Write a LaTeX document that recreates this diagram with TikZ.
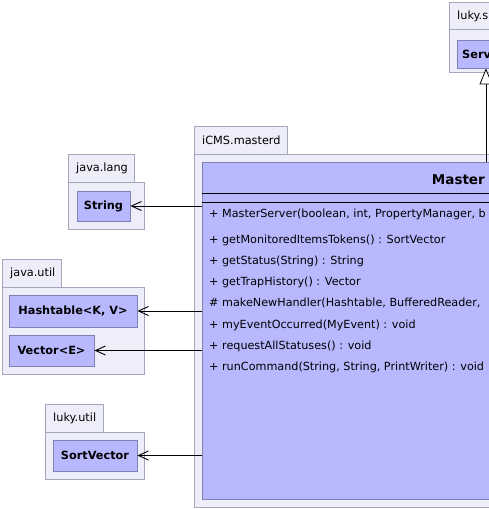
\documentclass[tikz,border=0pt]{standalone}
\usepackage{fontspec}
\setmainfont{DejaVu Sans}
\usetikzlibrary{arrows.meta}
\definecolor{pkgfill}{RGB}{238,238,250}
\definecolor{pkgline}{RGB}{165,165,190}
\definecolor{clsfill}{RGB}{184,184,255}
\definecolor{clsline}{RGB}{128,128,180}
\begin{document}
\begin{tikzpicture}[x=1pt,y=-1pt,
  pkg/.style={draw=pkgline, fill=pkgfill, line width=0.8pt},
  pkglabel/.style={anchor=west, inner sep=0pt, font=\fontsize{11.3}{13}\selectfont},
  cls/.style={draw=clsline, fill=clsfill, line width=0.8pt, inner sep=0pt, font=\fontsize{11.3}{13}\selectfont\bfseries},
  member/.style={anchor=base west, inner sep=0pt, font=\fontsize{11.2}{13}\selectfont},
  dep/.style={draw=black, line width=0.8pt, -{Straight Barb[length=10pt,width=9pt,line width=0.9pt]}},
  gen/.style={draw=black, line width=0.8pt, -{Triangle[open,length=16pt,width=13pt,fill=white,line width=0.8pt]}}]
\useasboundingbox (0,0) rectangle (489,509);
\clip (0,0) rectangle (489,509);
\fill[white] (0,0) rectangle (489,509);

% package luky.s (top right)
\draw[pkg] (449,2) rectangle (600,29);
\draw[pkg] (449,29) rectangle (600,72);
\node[pkglabel] (lskl) at (457,16) {luky.s};
\node[cls, minimum width=143pt, minimum height=28pt] (serv) at (528.5,54) {};
\node[anchor=west, inner sep=0pt, font=\fontsize{11.3}{13}\selectfont\bfseries] (servt) at (462,54) {Serv};

% package java.lang
\draw[pkg] (68,154) rectangle (134,182);
\draw[pkg] (68,182) rectangle (144,229);
\node[pkglabel] (jll) at (76,168) {java.lang};
\node[cls, minimum width=53pt, minimum height=30pt] (str) at (103.5,206) {String};

% package java.util
\draw[pkg] (2,259) rectangle (61,287);
\draw[pkg] (2,287) rectangle (144,374);
\node[pkglabel] (jul) at (10,273) {java.util};
\node[cls, minimum width=128pt, minimum height=32pt] (hash) at (73,311) {Hashtable<K, V>};
\node[cls, minimum width=85pt, minimum height=31pt] (vec) at (51.5,350.5) {Vector<E>};

% package luky.util
\draw[pkg] (45,404) rectangle (103,432);
\draw[pkg] (45,432) rectangle (144,479);
\node[pkglabel] (lul) at (53,418) {luky.util};
\node[cls, minimum width=84pt, minimum height=31pt] (sv) at (95,455.5) {SortVector};

% package iCMS.masterd
\draw[pkg] (194,126) rectangle (287,154);
\draw[pkg] (194,154) rectangle (800,507);
\node[pkglabel] (iml) at (202,140) {iCMS.masterd};

% class MasterServer
\node[cls, minimum width=568pt, minimum height=337pt] (ms) at (486,330.5) {};
\draw[black, line width=0.8pt] (ms.west |- 0,193) -- (ms.east |- 0,193);
\draw[black, line width=0.8pt] (ms.west |- 0,202) -- (ms.east |- 0,202);
\node[anchor=base east, inner sep=0pt, font=\fontsize{13.5}{16}\selectfont\bfseries] (mst) at (485,184) {Master};
\node[member] (m0) at (209,217) {+ MasterServer(boolean, int, PropertyManager, b};
\node[member] (m1) at (209,243) {+ getMonitoredItemsTokens() : SortVector};
\node[member] (m2) at (209,264.3) {+ getStatus(String) : String};
\node[member] (m3) at (209,285.6) {+ getTrapHistory() : Vector};
\node[member] (m4) at (209,306.9) {\# makeNewHandler(Hashtable, BufferedReader,};
\node[member] (m5) at (209,328.2) {+ myEventOccurred(MyEvent) : void};
\node[member] (m6) at (209,349.5) {+ requestAllStatuses() : void};
\node[member] (m7) at (209,370.8) {+ runCommand(String, String, PrintWriter) : void};

% connectors
\draw[dep] (ms.west |- str) -- (str.east);
\draw[dep] (ms.west |- hash) -- (hash.east);
\draw[dep] (ms.west |- vec) -- (vec.east);
\draw[dep] (ms.west |- sv) -- (sv.east);
\coordinate (gx) at (486,0);
\draw[gen] (ms.north -| gx) -- (serv.south -| gx);
\end{tikzpicture}
\end{document}
